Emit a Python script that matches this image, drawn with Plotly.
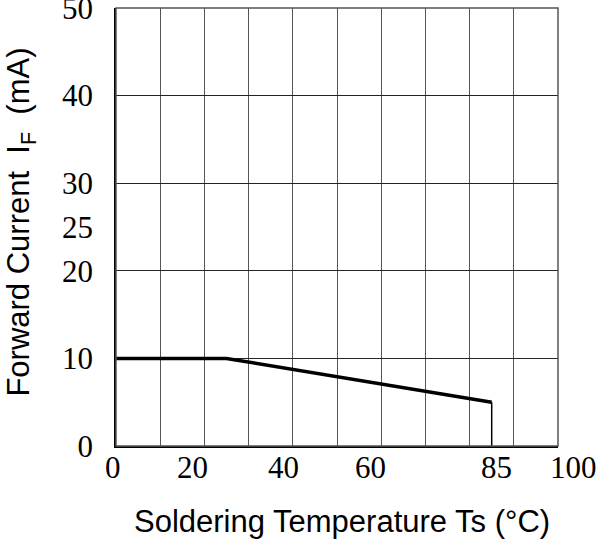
import plotly.graph_objects as go

# Data
temp_c = [0, 25, 85]
current_ma = [10, 10, 5]
drop_temp = [85, 85]
drop_current = [5, 0]

x_tick_vals = [0, 20, 40, 60, 85, 100]
x_tick_text = ["0", "20", "40", "60", "85", "100"]
y_tick_vals = [0, 10, 20, 25, 30, 40, 50]
y_tick_text = ["0", "10", "20", "25", "30", "40", "50"]

x_title = "Soldering Temperature Ts (°C)"
y_title = "Forward Current\u00a0\u00a0I<sub>F</sub>\u00a0\u00a0(mA)"

# Style: pixel nudges of the hand-placed x tick labels in the reference
x_label_nudge = [-3.5, -11.5, -9.5, -11, 4.5, 15]

fig = go.Figure()
fig.add_trace(go.Scatter(x=temp_c, y=current_ma, mode="lines",
                         line=dict(color="black", width=3.5), showlegend=False))
fig.add_trace(go.Scatter(x=drop_temp, y=drop_current, mode="lines",
                         line=dict(color="black", width=1.5), showlegend=False))

tick_font = dict(family="Liberation Serif", size=31, color="black")
title_font = dict(family="Liberation Sans", size=31, color="black")

fig.update_layout(
    width=600, height=544,
    margin=dict(l=116, r=42, t=8, b=98),
    paper_bgcolor="white", plot_bgcolor="white",
    xaxis=dict(range=[0, 100], tickvals=x_tick_vals, ticktext=x_tick_text,
               showticklabels=False,
               showgrid=False, zeroline=False, showline=True, linecolor="black",
               linewidth=1.5, ticks="", tickfont=tick_font, automargin=False,
               minor=dict(dtick=10, tick0=0, showgrid=True, gridcolor="#555555",
                          gridwidth=1.2, ticks="")),
    yaxis=dict(range=[0, 50], tickvals=y_tick_vals, ticktext=y_tick_text,
               showgrid=False, zeroline=False, showline=True, linecolor="black",
               linewidth=1.5, ticks="", tickfont=tick_font, ticklabelstandoff=15,
               automargin=False, ticklabeloverflow="allow",
               minor=dict(dtick=10, tick0=0, showgrid=True, gridcolor="#222222",
                          gridwidth=1.2, ticks="")),
)

fig.add_shape(type="rect", xref="x domain", yref="y domain", x0=0, x1=1, y0=0, y1=1,
              line=dict(color="#555555", width=1.5), layer="above")

for val, txt, nudge in zip(x_tick_vals, x_tick_text, x_label_nudge):
    fig.add_annotation(text=txt, xref="x", yref="paper", x=val, y=0,
                       xanchor="center", yanchor="middle", xshift=nudge, yshift=-21,
                       showarrow=False, font=tick_font)

fig.add_annotation(text=y_title, xref="paper", yref="paper", x=0, y=0.51,
                   xanchor="center", yanchor="middle", xshift=-95, textangle=-90,
                   showarrow=False, font=title_font)
fig.add_annotation(text=x_title, xref="paper", yref="paper", x=0.512, y=0,
                   xanchor="center", yanchor="middle", yshift=-75,
                   showarrow=False, font=title_font)

fig.write_html("out.html", config={"displayModeBar": False},
               post_script="document.body.style.margin='0px';")
